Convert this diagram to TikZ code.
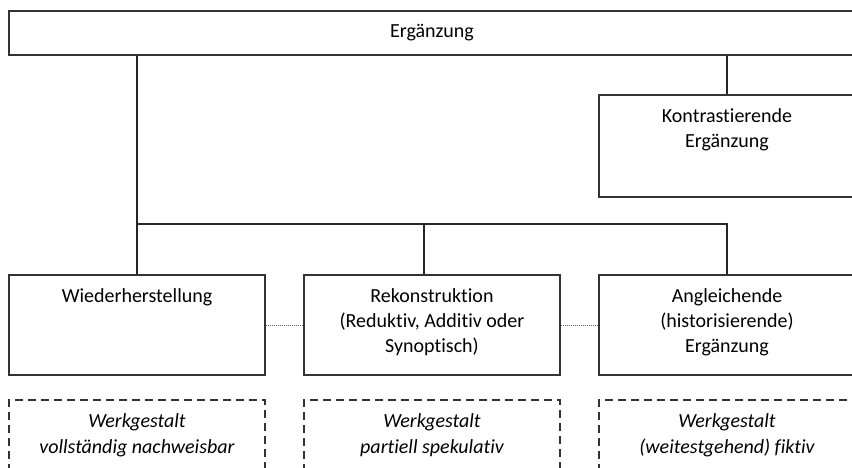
\documentclass[tikz,border=0pt]{standalone}
\usepackage{fontspec}
\setmainfont{Carlito}[Ligatures={NoCommon,NoContextual}]
\usetikzlibrary{positioning}

\tikzset{
  box/.style={draw=black!80, line width=1.2pt, minimum width=256pt, minimum height=100pt, inner sep=0pt},
  dashbox/.style={box, dash pattern=on 8pt off 5pt},
  boxtext/.style={align=center, inner sep=0pt, font=\fontsize{20}{25}\selectfont},
  werktext/.style={align=center, inner sep=0pt, font=\fontsize{20}{26}\selectfont\itshape},
  linkline/.style={draw=black!85, line width=1.2pt},
  dotline/.style={draw=black!60, line width=0.6pt, dash pattern=on 1pt off 1pt},
}

\begin{document}
\begin{tikzpicture}[x=1pt,y=-1pt]
  \useasboundingbox (0,0) rectangle (852,468);
  % boxes
  \node[box, minimum width=846pt, minimum height=44pt, font=\fontsize{20}{25}\selectfont] (top) at (432,33) {Ergänzung};
  \node[box, minimum height=102pt] (kon) at (727,146) {};
  \node[box] (wie) at (137,325) {};
  \node[box] (rek) at (432,325) {};
  \node[box] (ang) at (727,325) {};
  \node[dashbox] (wiewerk) at (137,450) {};
  \node[dashbox] (rekwerk) at (432,450) {};
  \node[dashbox] (angwerk) at (727,450) {};
  % texts
  \node[boxtext, below=14pt of kon.north] (kontext) {Kontrastierende\\Ergänzung};
  \node[boxtext, below=14pt of wie.north] (wietext) {Wiederherstellung};
  \node[boxtext, below=14pt of rek.north] (rektext) {Rekonstruktion\\(Reduktiv, Additiv oder\\Synoptisch)};
  \node[boxtext, below=14pt of ang.north] (angtext) {Angleichende\\(historisierende)\\Ergänzung};
  \node[werktext, below=14pt of wiewerk.north] (wiewerktext) {Werkgestalt\\vollständig nachweisbar};
  \node[werktext, below=14pt of rekwerk.north] (rekwerktext) {Werkgestalt\\partiell spekulativ};
  \node[werktext, below=14pt of angwerk.north] (angwerktext) {Werkgestalt\\(weitestgehend) fiktiv};
  % connectors
  \coordinate (split) at (0,224);
  \coordinate (rektop) at ([xshift=-8pt]rek.north);
  \draw[linkline] (top.south -| wie.north) -- (wie.north);
  \draw[linkline] (top.south -| kon.north) -- (kon.north);
  \draw[linkline] (split -| wie.north) -- (split -| ang.north) -- (ang.north);
  \draw[linkline] (split -| rektop) -- (rektop);
  \draw[dotline] (wie.east) -- (rek.west);
  \draw[dotline] (rek.east) -- (ang.west);
\end{tikzpicture}
\end{document}
